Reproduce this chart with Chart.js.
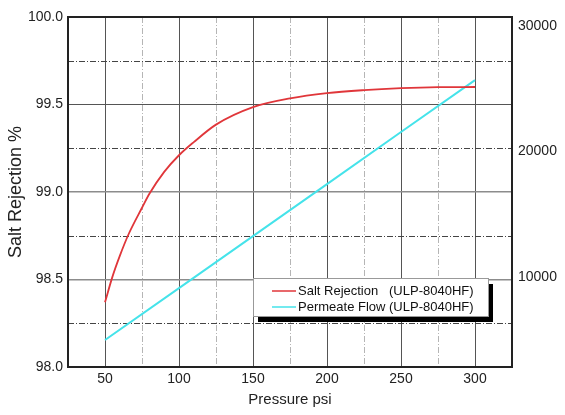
<!DOCTYPE html>
<html>
<head>
<meta charset="utf-8">
<script src="https://cdn.jsdelivr.net/npm/chart.js@4.4.0/dist/chart.umd.min.js"></script>
<style>
  html, body { margin: 0; padding: 0; background: #fff; }
  #wrap { width: 565px; height: 415px; position: relative; }
</style>
</head>
<body>
<div id="wrap"><canvas id="chart"></canvas></div>
<script>
// Pressure readings (psi) and salt rejection (%)
const pressureSalt = [50, 55, 60, 66, 75, 80, 90, 100, 110, 125, 150, 175, 200, 225, 250, 275, 300];
const saltRejection = [98.37, 98.515, 98.635, 98.76, 98.91, 98.99, 99.115, 99.21, 99.285, 99.385, 99.485, 99.535, 99.565, 99.582, 99.593, 99.599, 99.60];

// Pressure readings (psi) and permeate flow
const pressureFlow = [50, 100, 150, 200, 250, 300];
const permeateFlow = [4950, 9090, 13240, 17390, 21550, 25700];

// Axis ticks
const xTicks = [50, 100, 150, 200, 250, 300];
const yTicks = [98.0, 98.5, 99.0, 99.5, 100.0];
const y2Ticks = [10000, 20000, 30000];
const xMinor = [75, 125, 175, 225, 275];
const yMinor = [98.25, 98.75, 99.25, 99.75];

const seriesLabels = ["Salt Rejection   (ULP-8040HF)", "Permeate Flow (ULP-8040HF)"];
const seriesColors = ["#e0363a", "#45e3ea"];

const FONT = "'Liberation Sans', Arial, sans-serif";

function toPoints(xs, ys) {
    return xs.map((x, i) => ({ x: x, y: ys[i] }));
}

// dash-dot minor grid, plot frame
const minorGrid = {
    id: "minorGrid",
    beforeDatasetsDraw(chart) {
        const ctx = chart.ctx;
        const area = chart.chartArea;
        const sx = chart.scales.x, sy = chart.scales.y;
        ctx.save();
        ctx.lineWidth = 1;
        ctx.setLineDash([6, 2, 1, 2]);
        ctx.strokeStyle = "#b5b5b5";
        xMinor.forEach(v => {
            const px = Math.round(sx.getPixelForValue(v)) + 0.5;
            ctx.beginPath();
            ctx.moveTo(px, area.top);
            ctx.lineTo(px, area.bottom);
            ctx.stroke();
        });
        ctx.strokeStyle = "#444";
        yMinor.forEach(v => {
            const py = Math.round(sy.getPixelForValue(v)) + 0.5;
            ctx.beginPath();
            ctx.moveTo(area.left, py);
            ctx.lineTo(area.right, py);
            ctx.stroke();
        });
        ctx.restore();
    },
    afterDatasetsDraw(chart) {
        const ctx = chart.ctx;
        const a = chart.chartArea;
        ctx.save();
        ctx.strokeStyle = "#222";
        ctx.lineWidth = 2;
        ctx.strokeRect(a.left, a.top, a.right - a.left, a.bottom - a.top);
        ctx.restore();
    }
};

// boxed legend with a solid drop shadow
const boxLegend = {
    id: "boxLegend",
    afterDraw(chart) {
        const ctx = chart.ctx;
        const bx = 253, by = 278, bw = 235, bh = 38;
        ctx.save();
        ctx.fillStyle = "#000";
        ctx.fillRect(bx + 5, by + 6, bw, bh);
        ctx.fillStyle = "#fff";
        ctx.fillRect(bx, by, bw, bh);
        ctx.strokeStyle = "#999";
        ctx.lineWidth = 1;
        ctx.strokeRect(bx + 0.5, by + 0.5, bw, bh);
        ctx.font = "13px " + FONT;
        ctx.textBaseline = "middle";
        ctx.fillStyle = "#111";
        seriesLabels.forEach((label, i) => {
            const ly = by + 13 + i * 16;
            ctx.strokeStyle = seriesColors[i];
            ctx.lineWidth = 1.5;
            ctx.beginPath();
            ctx.moveTo(bx + 19, ly);
            ctx.lineTo(bx + 43, ly);
            ctx.stroke();
            ctx.fillText(label, bx + 45, ly);
        });
        ctx.restore();
    }
};

new Chart(document.getElementById("chart"), {
    type: "line",
    data: {
        datasets: [{
            label: seriesLabels[0],
            data: toPoints(pressureSalt, saltRejection),
            borderColor: seriesColors[0],
            borderWidth: 1.8,
            pointRadius: 0,
            cubicInterpolationMode: "monotone",
            yAxisID: "y"
        }, {
            label: seriesLabels[1],
            data: toPoints(pressureFlow, permeateFlow),
            borderColor: seriesColors[1],
            borderWidth: 2,
            pointRadius: 0,
            yAxisID: "y2"
        }]
    },
    options: {
        responsive: true,
        maintainAspectRatio: false,
        animation: false,
        layout: { padding: { top: 17, left: 0, right: 0, bottom: 0 } },
        plugins: {
            legend: { display: false },
            tooltip: { enabled: false }
        },
        scales: {
            x: {
                type: "linear",
                min: 25,
                max: 325,
                afterBuildTicks: s => { s.ticks = xTicks.map(v => ({ value: v })); },
                afterFit: s => { s.height = 48; },
                border: { display: false },
                grid: { color: "#555", lineWidth: 1, drawTicks: false },
                ticks: {
                    padding: 4,
                    color: "#222",
                    font: { family: FONT, size: 14 },
                    callback: v => v
                },
                title: {
                    display: true,
                    text: "Pressure psi",
                    color: "#222",
                    font: { family: FONT, size: 15 },
                    padding: { top: 0, bottom: 6 }
                }
            },
            y: {
                position: "left",
                min: 98,
                max: 100,
                afterBuildTicks: s => { s.ticks = yTicks.map(v => ({ value: v })); },
                afterFit: s => { s.width = 68; },
                border: { display: false },
                grid: {
                    drawTicks: false,
                    color: c => (c.tick && c.tick.value === 99.5) ? "#555" : "#8c8c8c",
                    lineWidth: c => (c.tick && c.tick.value === 99.5) ? 1 : 1.5
                },
                ticks: {
                    padding: 5,
                    color: "#222",
                    font: { family: FONT, size: 14 },
                    callback: v => v.toFixed(1)
                },
                title: {
                    display: true,
                    text: "Salt Rejection %",
                    color: "#222",
                    font: { family: FONT, size: 18 },
                    padding: { top: 5, bottom: 0 }
                }
            },
            y2: {
                position: "right",
                min: 2790,
                max: 30735,
                afterBuildTicks: s => { s.ticks = y2Ticks.map(v => ({ value: v })); },
                afterFit: s => { s.width = 53; },
                border: { display: false },
                grid: { display: false, drawTicks: false },
                ticks: {
                    padding: 6,
                    color: "#222",
                    font: { family: FONT, size: 14 },
                    callback: v => String(v)
                }
            }
        }
    },
    plugins: [minorGrid, boxLegend]
});
</script>
</body>
</html>
